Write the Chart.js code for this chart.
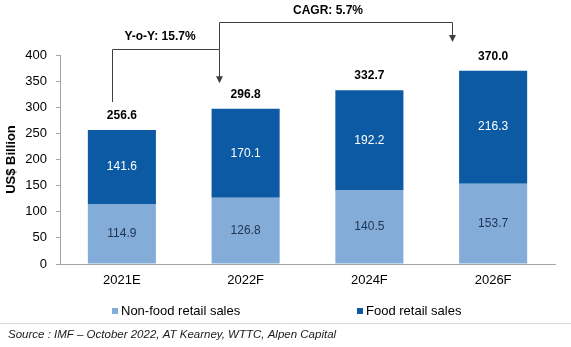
<!DOCTYPE html>
<html>
<head>
<meta charset="utf-8">
<script src="https://cdn.jsdelivr.net/npm/chart.js@4.4.0/dist/chart.umd.min.js"></script>
<style>
html,body{margin:0;padding:0;background:#fff;}
#wrap{width:571px;height:347px;position:relative;}
</style>
</head>
<body>
<div id="wrap"><canvas id="c" width="571" height="347"></canvas></div>
<script>
const categories = ['2021E', '2022F', '2024F', '2026F'];
const nonFood = [114.9, 126.8, 140.5, 153.7];
const food = [141.6, 170.1, 192.2, 216.3];
const totals = [256.6, 296.8, 332.7, 370.0];
const seriesNames = ['Non-food retail sales', 'Food retail sales'];
const yTicks = [0, 50, 100, 150, 200, 250, 300, 350, 400];
const yoyText = 'Y-o-Y: 15.7%';
const cagrText = 'CAGR: 5.7%';
const sourceText = 'Source : IMF \u2013 October 2022, AT Kearney, WTTC, Alpen Capital';

const FONT = 'Arial, "Liberation Sans", Helvetica, sans-serif';
const LIGHT = '#84acd8';
const DARK = '#0b5aa3';
const LINE = '#404040';

function arrowDown(ctx, x, y) {
  ctx.beginPath();
  ctx.moveTo(x - 3.5, y - 7);
  ctx.lineTo(x + 3.5, y - 7);
  ctx.lineTo(x, y);
  ctx.closePath();
  ctx.fill();
}

const extras = {
  id: 'extras',
  afterDatasetsDraw(chart) {
    const ctx = chart.ctx;
    const xs = chart.scales.x, ys = chart.scales.y;
    ctx.save();
    // in-bar values
    chart.data.datasets.forEach((ds, di) => {
      const meta = chart.getDatasetMeta(di);
      meta.data.forEach((el, i) => {
        const cy = (el.y + el.base) / 2;
        ctx.font = '12px ' + FONT;
        ctx.fillStyle = di === 0 ? '#1c3352' : '#ffffff';
        ctx.textAlign = 'center';
        ctx.textBaseline = 'middle';
        ctx.fillText(ds.data[i].toFixed(1), el.x, cy);
      });
    });
    // totals
    const topMeta = chart.getDatasetMeta(1);
    topMeta.data.forEach((el, i) => {
      ctx.font = 'bold 12px ' + FONT;
      ctx.fillStyle = '#000';
      ctx.textAlign = 'center';
      ctx.textBaseline = 'middle';
      ctx.fillText(totals[i].toFixed(1), el.x, el.y - 14);
    });
    // annotations
    ctx.strokeStyle = LINE;
    ctx.fillStyle = LINE;
    ctx.lineWidth = 1;
    const x0 = Math.round(xs.getPixelForValue(0) - 10) + 0.5;
    const x1 = Math.round(xs.getPixelForValue(1) - 27) + 0.5;
    const x3 = Math.round(xs.getPixelForValue(3) - 41) + 0.5;
    const yA = Math.round(ys.getPixelForValue(411)) + 0.5;
    const yB = Math.round(ys.getPixelForValue(463)) + 0.5;
    ctx.beginPath();
    ctx.moveTo(x0, ys.getPixelForValue(310));
    ctx.lineTo(x0, yA);
    ctx.lineTo(x1, yA);
    ctx.lineTo(x1, ys.getPixelForValue(346) - 6);
    ctx.stroke();
    arrowDown(ctx, x1, ys.getPixelForValue(346));
    ctx.beginPath();
    ctx.moveTo(x1, yA);
    ctx.lineTo(x1, yB);
    ctx.lineTo(x3, yB);
    ctx.lineTo(x3, ys.getPixelForValue(425) - 6);
    ctx.stroke();
    arrowDown(ctx, x3, ys.getPixelForValue(425));
    ctx.fillStyle = '#000';
    ctx.font = 'bold 12px ' + FONT;
    ctx.textAlign = 'center';
    ctx.textBaseline = 'middle';
    ctx.fillText(yoyText, 160, 37);
    ctx.fillText(cagrText, 328, 11);
    // legend
    const legendY = 311;
    const items = [{x: 112, c: LIGHT, t: seriesNames[0]}, {x: 357, c: DARK, t: seriesNames[1]}];
    items.forEach(it => {
      ctx.fillStyle = it.c;
      ctx.fillRect(it.x, legendY - 3, 6, 6);
      ctx.fillStyle = '#000';
      ctx.font = '13px ' + FONT;
      ctx.textAlign = 'left';
      ctx.fillText(it.t, it.x + 9, legendY);
    });
    // separator
    ctx.strokeStyle = '#d9d9d9';
    ctx.beginPath();
    ctx.moveTo(0, 323.5);
    ctx.lineTo(571, 323.5);
    ctx.stroke();
    // source
    ctx.fillStyle = '#1a1a1a';
    ctx.font = 'italic 11.5px ' + FONT;
    ctx.textAlign = 'left';
    ctx.fillText(sourceText, 8, 335);
    ctx.restore();
  }
};

new Chart(document.getElementById('c'), {
  type: 'bar',
  data: {
    labels: categories,
    datasets: [
      {label: seriesNames[0], data: nonFood, backgroundColor: LIGHT, stack: 's'},
      {label: seriesNames[1], data: food, backgroundColor: DARK, stack: 's'}
    ]
  },
  options: {
    responsive: false,
    animation: false,
    devicePixelRatio: 1,
    layout: {padding: {top: 55, right: 16, left: 0, bottom: 0}},
    categoryPercentage: 1,
    barPercentage: 0.55,
    plugins: {legend: {display: false}, tooltip: {enabled: false}},
    scales: {
      x: {
        stacked: true,
        grid: {drawOnChartArea: false, drawTicks: false, color: '#a6a6a6'},
        border: {display: true, color: '#a6a6a6'},
        ticks: {color: '#000', font: {size: 13, family: FONT}, padding: 9},
        afterFit(s) { s.height = 83; }
      },
      y: {
        stacked: true,
        min: 0, max: 400,
        afterBuildTicks(s) { s.ticks = yTicks.map(v => ({value: v})); },
        grid: {drawOnChartArea: false, drawTicks: true, tickLength: 4, color: '#a6a6a6'},
        border: {display: true, color: '#a6a6a6'},
        ticks: {color: '#000', font: {size: 13, family: FONT}, padding: 9},
        title: {display: true, text: 'US$ Billion', color: '#000', font: {size: 13, weight: 'bold', family: FONT}, padding: {top: 4, bottom: 0}},
        afterFit(s) { s.width = 60; }
      }
    }
  },
  plugins: [extras]
});
</script>
</body>
</html>
